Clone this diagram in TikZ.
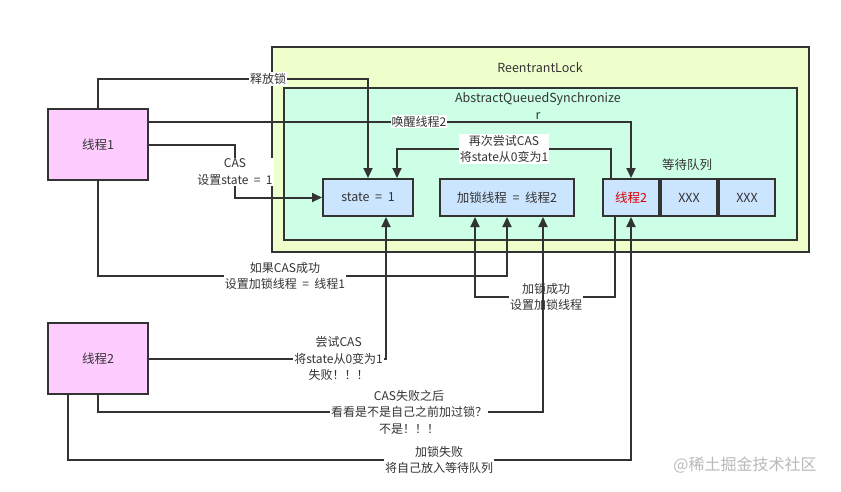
\documentclass[tikz,border=0pt]{standalone}
\usepackage{fontspec}
\setmainfont{Noto Sans CJK SC}
\usetikzlibrary{arrows.meta,positioning}
\definecolor{lockbg}{HTML}{EEFFCC}
\definecolor{aqsbg}{HTML}{CCFFE6}
\definecolor{threadbg}{HTML}{FFCCFF}
\definecolor{fieldbg}{HTML}{CCE5FF}
\definecolor{ink}{HTML}{333333}
\newcommand\eqsign{\hspace{0.45em}=\hspace{0.45em}}
\tikzset{
    box/.style={rectangle, draw=ink, line width=2pt, inner sep=0, text=ink},
    thread/.style={box, fill=threadbg, minimum width=100pt, minimum height=71pt, font=\fontsize{12.5}{16}\selectfont},
    field/.style={box, fill=fieldbg, minimum height=37pt, font=\fontsize{12.5}{16}\selectfont},
    lbl/.style={fill=white, inner sep=1pt, align=center, text=ink, font=\fontsize{12}{16.5}\selectfont},
    post/.style={-{Triangle[length=10pt,width=9pt]}, draw=ink, line width=2pt},
  }

\begin{document}
\begin{tikzpicture}[x=1pt, y=-1pt, title/.style={text=ink, align=center, font=\fontsize{12.5}{17}\selectfont}]
      \useasboundingbox (0,0) rectangle (841,491);
      \node (lock-box) [box, fill=lockbg, minimum width=537pt, minimum height=205pt] at (540.5,149.5) {};
      \node (aqs-box) [box, fill=aqsbg, minimum width=513pt, minimum height=152pt] at (540.5,164) {};
      \node (lock-title) [title] at (540,68) {ReentrantLock};
      \node (aqs-title) [title] at (538,106) {AbstractQueuedSynchronize\\r};

      \node (t1) [thread] at (98,144.5) {线程1};
      \node (t2) [thread] at (98,358.5) {线程2};

      \node (state) [field, minimum width=90pt] at (368,197.5) {state\eqsign 1};
      \node (owner) [field, minimum width=134pt] at (507,197.5) {加锁线程\eqsign 线程2};
      \node (q1) [field, minimum width=56pt, text=red!85!black] at (631,197.5) {线程2};
      \node (q2) [field, minimum width=56pt, right=0pt of q1] {XXX};
      \node (q3) [field, minimum width=56pt, right=0pt of q2] {XXX};
      \node (queue-title) [title] at (687,165) {等待队列};

      \coordinate (cas-c) at (235,172);
      \coordinate (retry-c) at (504,149);
      \coordinate (ok1-c) at (285,276);
      \coordinate (ok2-c) at (546,297);
      \coordinate (fail1-c) at (409,412);
      \coordinate (fail2-c) at (439,460);

      \draw[post] (t1.north) -- ++(0,-29) -| node[lbl, pos=0.315] (release-lbl) {释放锁} (state.north);
      \draw[post] ([yshift=23pt]t1.east) -| node[lbl, pos=0.28] (wake-lbl) {唤醒线程2} (q1.north);
      \draw[post] (t1.east) -| (cas-c) node[lbl] (cas-lbl) {CAS\\设置state\eqsign 1} |- (state.west);
      \draw[post] ([xshift=9pt]q1.north west) |- (retry-c) node[lbl] (retry-lbl) {再次尝试CAS\\将state从0变为1} -| ([xshift=29pt]state.north);
      \draw[post] (t1.south) |- (ok1-c) node[lbl] (ok1-lbl) {如果CAS成功\\设置加锁线程\eqsign 线程1} -| (owner.south);
      \draw[post] ([xshift=13pt]q1.south west) |- (ok2-c) node[lbl] (ok2-lbl) {加锁成功\\设置加锁线程} -| ([xshift=-32pt]owner.south);

      \draw[post] (t2.east) -| node[lbl, pos=0.4] (try-lbl) {尝试CAS\\将state从0变为1\\失败！！！} ([xshift=18pt]state.south);
      \draw[post] (t2.south) |- (fail1-c) node[lbl] (fail1-lbl) {CAS失败之后\\看看是不是自己之前加过锁？\\不是！！！} -| ([xshift=36pt]owner.south);
      \draw[post] ([xshift=21pt]t2.south west) |- (fail2-c) node[lbl] (fail2-lbl) {加锁失败\\将自己放入等待队列} -| (q1.south);

      \node (mark) [text=gray!55, font=\fontsize{16}{16}\selectfont] at (745,465) {@稀土掘金技术社区};
\end{tikzpicture}
\end{document}
